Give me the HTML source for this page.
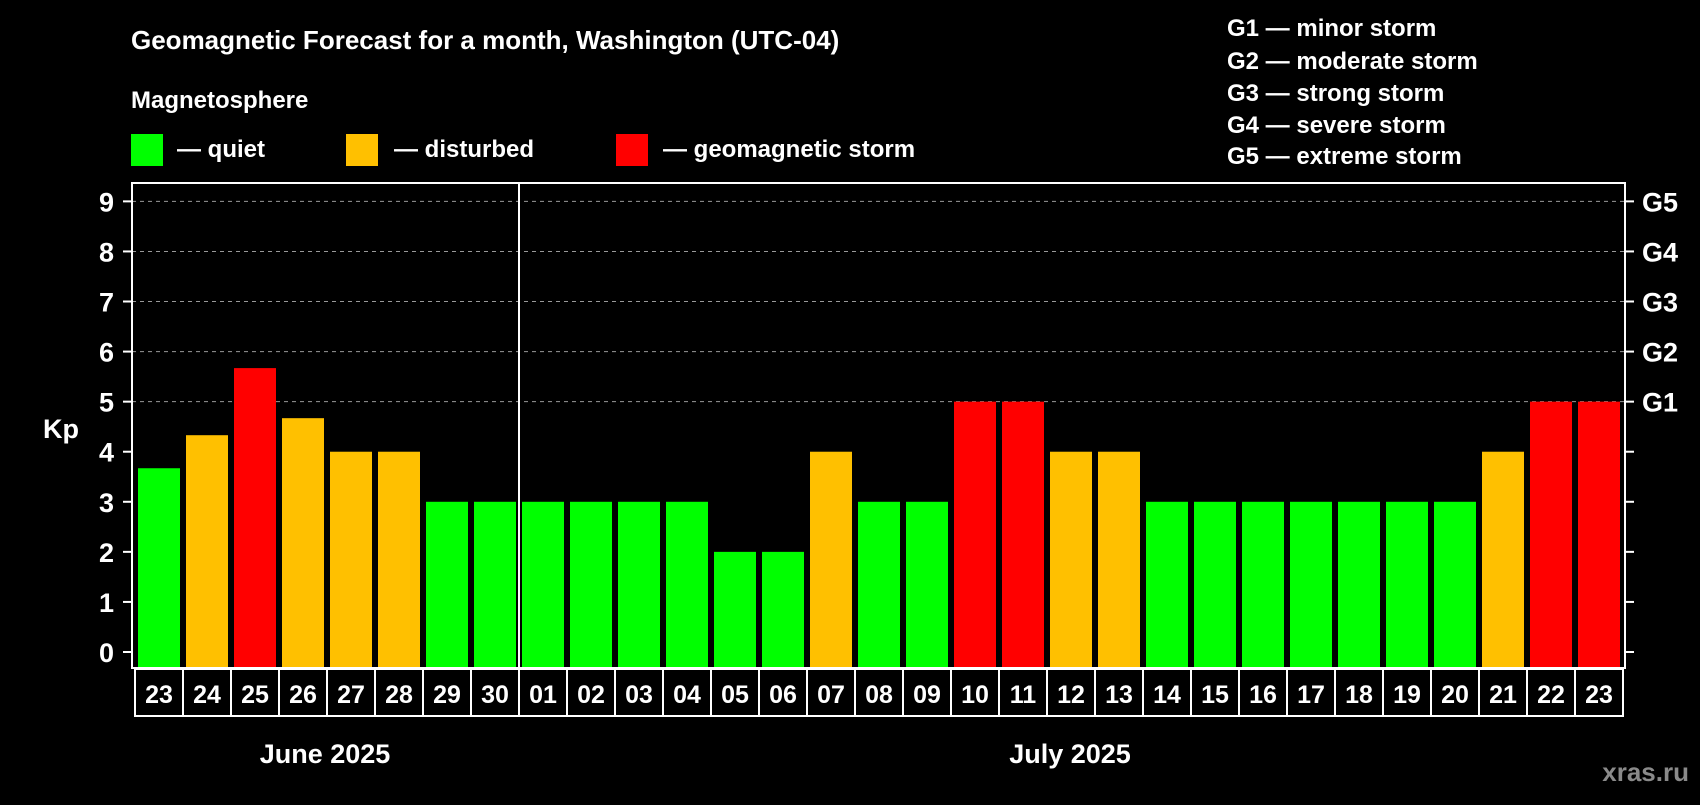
<!DOCTYPE html>
<html><head><meta charset="utf-8"><style>
body{margin:0;background:#000;width:1700px;height:800px;overflow:hidden;font-family:"Liberation Sans",Arial,sans-serif}
svg text{font-family:"Liberation Sans",Arial,sans-serif;font-weight:bold;fill:#fff}
</style></head><body>
<svg id="c" width="1700" height="800">
<text x="131" y="49" font-size="26">Geomagnetic Forecast for a month, Washington (UTC-04)</text>
<text x="131" y="108" font-size="24">Magnetosphere</text>
<rect x="131" y="134" width="32" height="32" fill="#00ff00"/>
<text x="177" y="157" font-size="24">— quiet</text>
<rect x="346" y="134" width="32" height="32" fill="#ffc000"/>
<text x="394" y="157" font-size="24">— disturbed</text>
<rect x="616" y="134" width="32" height="32" fill="#ff0000"/>
<text x="663" y="157" font-size="24">— geomagnetic storm</text>
<g font-size="24">
<text x="1227" y="36">G1 — minor storm</text>
<text x="1227" y="69">G2 — moderate storm</text>
<text x="1227" y="101">G3 — strong storm</text>
<text x="1227" y="133">G4 — severe storm</text>
<text x="1227" y="164">G5 — extreme storm</text>
</g>
<text x="43" y="438" font-size="27">Kp</text>
<text x="325" y="763" font-size="27" text-anchor="middle">June 2025</text>
<text x="1070" y="763" font-size="27" text-anchor="middle">July 2025</text>
<text x="1689" y="781" font-size="26" text-anchor="end" style="fill:#8a8a8a">xras.ru</text>
<g id="plot"></g>
</svg>
<script>
const days=["23","24","25","26","27","28","29","30","01","02","03","04","05","06","07","08","09","10","11","12","13","14","15","16","17","18","19","20","21","22","23"];
const kp=[3.67,4.33,5.67,4.67,4,4,3,3,3,3,3,3,2,2,4,3,3,5,5,4,4,3,3,3,3,3,3,3,4,5,5];
const yTicks=["0","1","2","3","4","5","6","7","8","9"];
const gLabels=["G1","G2","G3","G4","G5"];
const NS="http://www.w3.org/2000/svg";
const g=document.getElementById('plot');
const L=132,R=1625,T=183,B=668,bx0=135,step=48;
const y=v=>652-v*50.07;
const x=i=>bx0+i*step;
function mk(t,a,txt){const e=document.createElementNS(NS,t);for(const k in a)e.setAttribute(k,a[k]);if(txt!=null)e.textContent=txt;g.appendChild(e);return e;}
yTicks.forEach((t,i)=>{
 const v=+t;
 if(v>=5){const l=mk('line',{x1:L,x2:R,y1:y(v),y2:y(v),stroke:'#999','stroke-dasharray':'4,4','stroke-width':1});
 
 }
 mk('line',{x1:L-9,x2:L,y1:y(v),y2:y(v),stroke:'#fff','stroke-width':2});
 mk('line',{x1:R,x2:R+9,y1:y(v),y2:y(v),stroke:'#fff','stroke-width':2});
 const tx=mk('text',{x:114,y:y(v)+10,'font-size':27,'text-anchor':'end'},t);
 
 
});
gLabels.forEach((t,i)=>{
 const tx=mk('text',{x:1642,y:y(5+i)+10,'font-size':27},t);
 
 
});
kp.forEach((v,i)=>{
 const c=v>=5?'#ff0000':v>=4?'#ffc000':'#00ff00';
 const r=mk('rect',{x:x(i)+3,y:y(v),width:42,height:B-y(v)-1,fill:c});
 
 
});
mk('rect',{x:L,y:T,width:R-L,height:B-T,fill:'none',stroke:'#fff','stroke-width':2});
mk('line',{x1:x(8),x2:x(8),y1:T,y2:B,stroke:'#fff','stroke-width':2});
days.forEach((d,i)=>{
 mk('rect',{x:x(i),y:B+1,width:step,height:47,fill:'none',stroke:'#fff','stroke-width':2});
 const tx=mk('text',{x:x(i)+step/2,y:B+35,'font-size':25,'text-anchor':'middle'},d);
 
 
});
</script>
</body></html>
